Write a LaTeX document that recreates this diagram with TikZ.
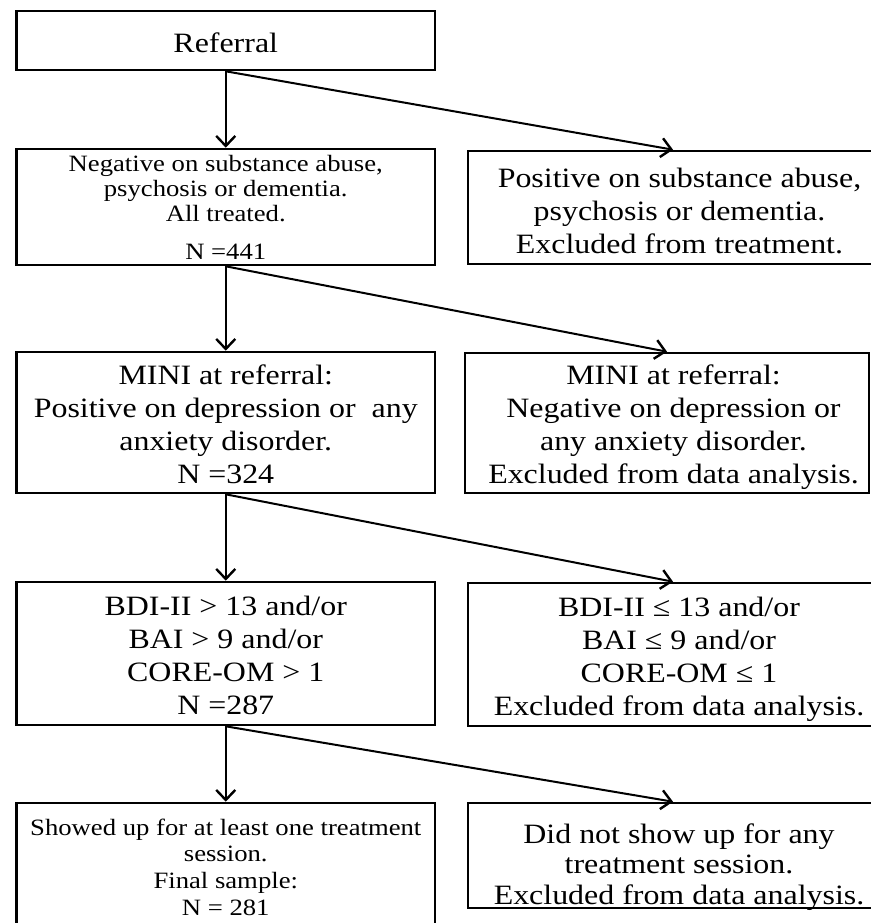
\documentclass[tikz,border=0pt]{standalone}
\usepackage{fontspec}
\setmainfont{Liberation Serif}[FakeStretch=1.14]
\usetikzlibrary{arrows.meta}
\begin{document}
\begin{tikzpicture}[x=1pt,y=-1pt,
  box/.style={draw=black, line width=2.6pt, rectangle, inner sep=0pt},
  txt/.style={anchor=north, inner sep=0pt, align=center},
  bigtxt/.style={txt, font=\fontsize{28}{33}\selectfont},
  smalltxt/.style={txt, font=\fontsize{23.4}{25}\selectfont},
  arr/.style={line width=2pt, -{Straight Barb[length=10pt,width=19pt,line width=2.4pt]}}]
\useasboundingbox (0,0) rectangle (870,923);
% boxes
\node[box, minimum width=418.5pt, minimum height=59pt]  (ref) at (225.75,40.5) {};
\node[box, minimum width=418.5pt, minimum height=116pt] (l2)  at (225.75,207) {};
\node[box, minimum width=410pt,   minimum height=113pt] (r2)  at (673,207.5) {};
\node[box, minimum width=418.5pt, minimum height=141pt] (l3)  at (225.75,422.5) {};
\node[box, minimum width=404pt,   minimum height=140pt] (r3)  at (667,423) {};
\node[box, minimum width=418.5pt, minimum height=143pt] (l4)  at (225.75,653.5) {};
\node[box, minimum width=410pt,   minimum height=143pt] (r4)  at (673,654.5) {};
\node[box, minimum width=418.5pt, minimum height=137pt] (l5)  at (225.75,871.5) {};
\node[box, minimum width=410pt,   minimum height=105pt] (r5)  at (673,855.5) {};
% texts
\node[bigtxt] (tref) at (225.75,29.6) {\strut Referral};
\node[smalltxt] (tl2) at (225.75,153.5) {\strut Negative on substance abuse,\\ psychosis or dementia.\\ All treated.\\[13pt] N =441};
\node[bigtxt] (tr2) at (679.5,163.9) {\strut Positive on substance abuse,\\ psychosis or dementia.\\ Excluded from treatment.};
\node[bigtxt] (tl3) at (225.75,360.9) {\strut MINI at referral:\\ Positive on depression or~ any\\ anxiety disorder.\\ N =324};
\node[bigtxt] (tr3) at (673.5,360.9) {\strut MINI at referral:\\ Negative on depression or\\ any anxiety disorder.\\ Excluded from data analysis.};
\node[bigtxt] (tl4) at (225.75,591.9) {\strut BDI-II > 13 and/or\\ BAI > 9 and/or\\ CORE-OM > 1\\ N =287};
\node[bigtxt] (tr4) at (679,592.9) {\strut BDI-II ≤ 13 and/or\\ BAI ≤ 9 and/or\\ CORE-OM ≤ 1\\ Excluded from data analysis.};
\node[txt, font=\fontsize{23.4}{26.7}\selectfont] (tl5) at (225.75,816.3) {\strut Showed up for at least one treatment\\ session.\\ Final sample:\\ N = 281};
\node[txt, font=\fontsize{28}{30.5}\selectfont] (tr5) at (679,821.65) {\strut Did not show up for any\\ treatment session.\\ Excluded from data analysis.};
% connectors
\draw[arr] (ref.south) -- (l2.north);
\draw[arr] (ref.south) -- (r2.north);
\draw[arr] (l2.south) -- (l3.north);
\draw[arr] (l2.south) -- (r3.north);
\draw[arr] (l3.south) -- (l4.north);
\draw[arr] (l3.south) -- (r4.north);
\draw[arr] (l4.south) -- (l5.north);
\draw[arr] (l4.south) -- (r5.north);
\end{tikzpicture}
\end{document}
